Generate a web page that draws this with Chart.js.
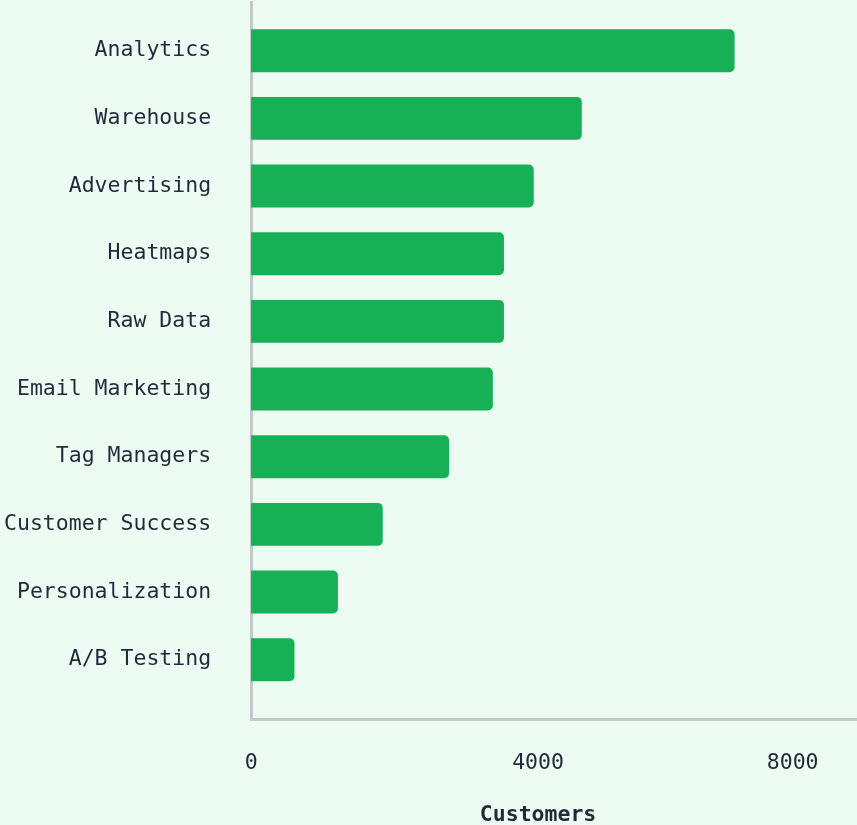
<!DOCTYPE html>
<html>
<head>
<meta charset="utf-8">
<script src="https://cdn.jsdelivr.net/npm/chart.js@4.4.0/dist/chart.umd.min.js"></script>
<style>
  body { margin: 0; background: #edfcf2; }
  #wrap { width: 857px; height: 825px; }
</style>
</head>
<body>
<div id="wrap"><canvas id="graficoClientes"></canvas></div>
<script>
// valores (de cima para baixo)
const categorias = ['Analytics', 'Warehouse', 'Advertising', 'Heatmaps', 'Raw Data',
  'Email Marketing', 'Tag Managers', 'Customer Success', 'Personalization', 'A/B Testing'];
const clientes = [6740, 4610, 3940, 3525, 3525, 3370, 2760, 1835, 1210, 605];
const ticksX = [0, 4000, 8000];

const corBarra = '#18b057';
const corEixo = '#c3c8cf';
const corTexto = '#1f2b3a';

Chart.defaults.font.family = "'DejaVu Sans Mono', monospace";
Chart.defaults.font.size = 21.5;
Chart.defaults.color = corTexto;

// a linha do eixo x continua ate a borda direita
const prolongarEixo = {
  id: 'prolongarEixo',
  beforeDatasetsDraw(chart) {
    const { ctx, chartArea } = chart;
    const y = Math.round(chart.scales.x.top - 1.5) + 1.5; // mesmo alinhamento da borda do Chart.js
    ctx.save();
    ctx.strokeStyle = corEixo;
    ctx.lineWidth = 3;
    ctx.beginPath();
    ctx.moveTo(chartArea.right, y);
    ctx.lineTo(chart.width, y);
    ctx.stroke();
    ctx.restore();
  }
};

function criarGrafico() {
  const ctx = document.getElementById('graficoClientes').getContext('2d');

  new Chart(ctx, {
    type: 'bar',
    data: {
      datasets: [{
        label: 'Customers',
        data: categorias.map((c, i) => ({ x: clientes[i], y: i })),
        backgroundColor: corBarra,
        borderRadius: 5,
        barPercentage: 0.635,
        categoryPercentage: 1
      }]
    },
    options: {
      indexAxis: 'y',
      responsive: true,
      maintainAspectRatio: false,
      animation: false,
      layout: { padding: { top: 2, left: 4, right: 32, bottom: 0 } },
      plugins: {
        legend: { display: false },
        tooltip: { enabled: false }
      },
      scales: {
        x: {
          type: 'linear',
          min: 0,
          max: 8000,
          afterBuildTicks: (scale) => { scale.ticks = ticksX.map(v => ({ value: v })); },
          afterFit: (scale) => { scale.paddingLeft = 0; scale.paddingRight = 0; },
          grid: { display: false, tickLength: 31 },
          border: { display: true, color: corEixo, width: 3 },
          ticks: {
            padding: 0,
            // ultimo rotulo fica a esquerda do tick, como no original
            callback: (v) => v === 8000 ? '8000\u00a0\u00a0\u00a0\u00a0\u00a0' : String(v)
          },
          title: {
            display: true,
            text: 'Customers',
            font: { weight: 'bold', size: 21.5, lineHeight: 0.85 },
            padding: { top: 30, bottom: 0 }
          }
        },
        y: {
          type: 'linear',
          reverse: true,
          offset: false,
          min: -0.72,
          max: 9.89,
          afterBuildTicks: (scale) => { scale.ticks = categorias.map((c, i) => ({ value: i })); },
          afterFit: (scale) => { scale.paddingTop = 0; scale.paddingBottom = 0; },
          grid: { display: false, tickLength: 40 },
          border: { display: true, color: corEixo, width: 3 },
          ticks: {
            padding: 0,
            autoSkip: false,
            callback: (v) => categorias[v]
          }
        }
      }
    },
    plugins: [prolongarEixo]
  });
}

window.onload = () => {
  criarGrafico();
};
</script>
</body>
</html>
